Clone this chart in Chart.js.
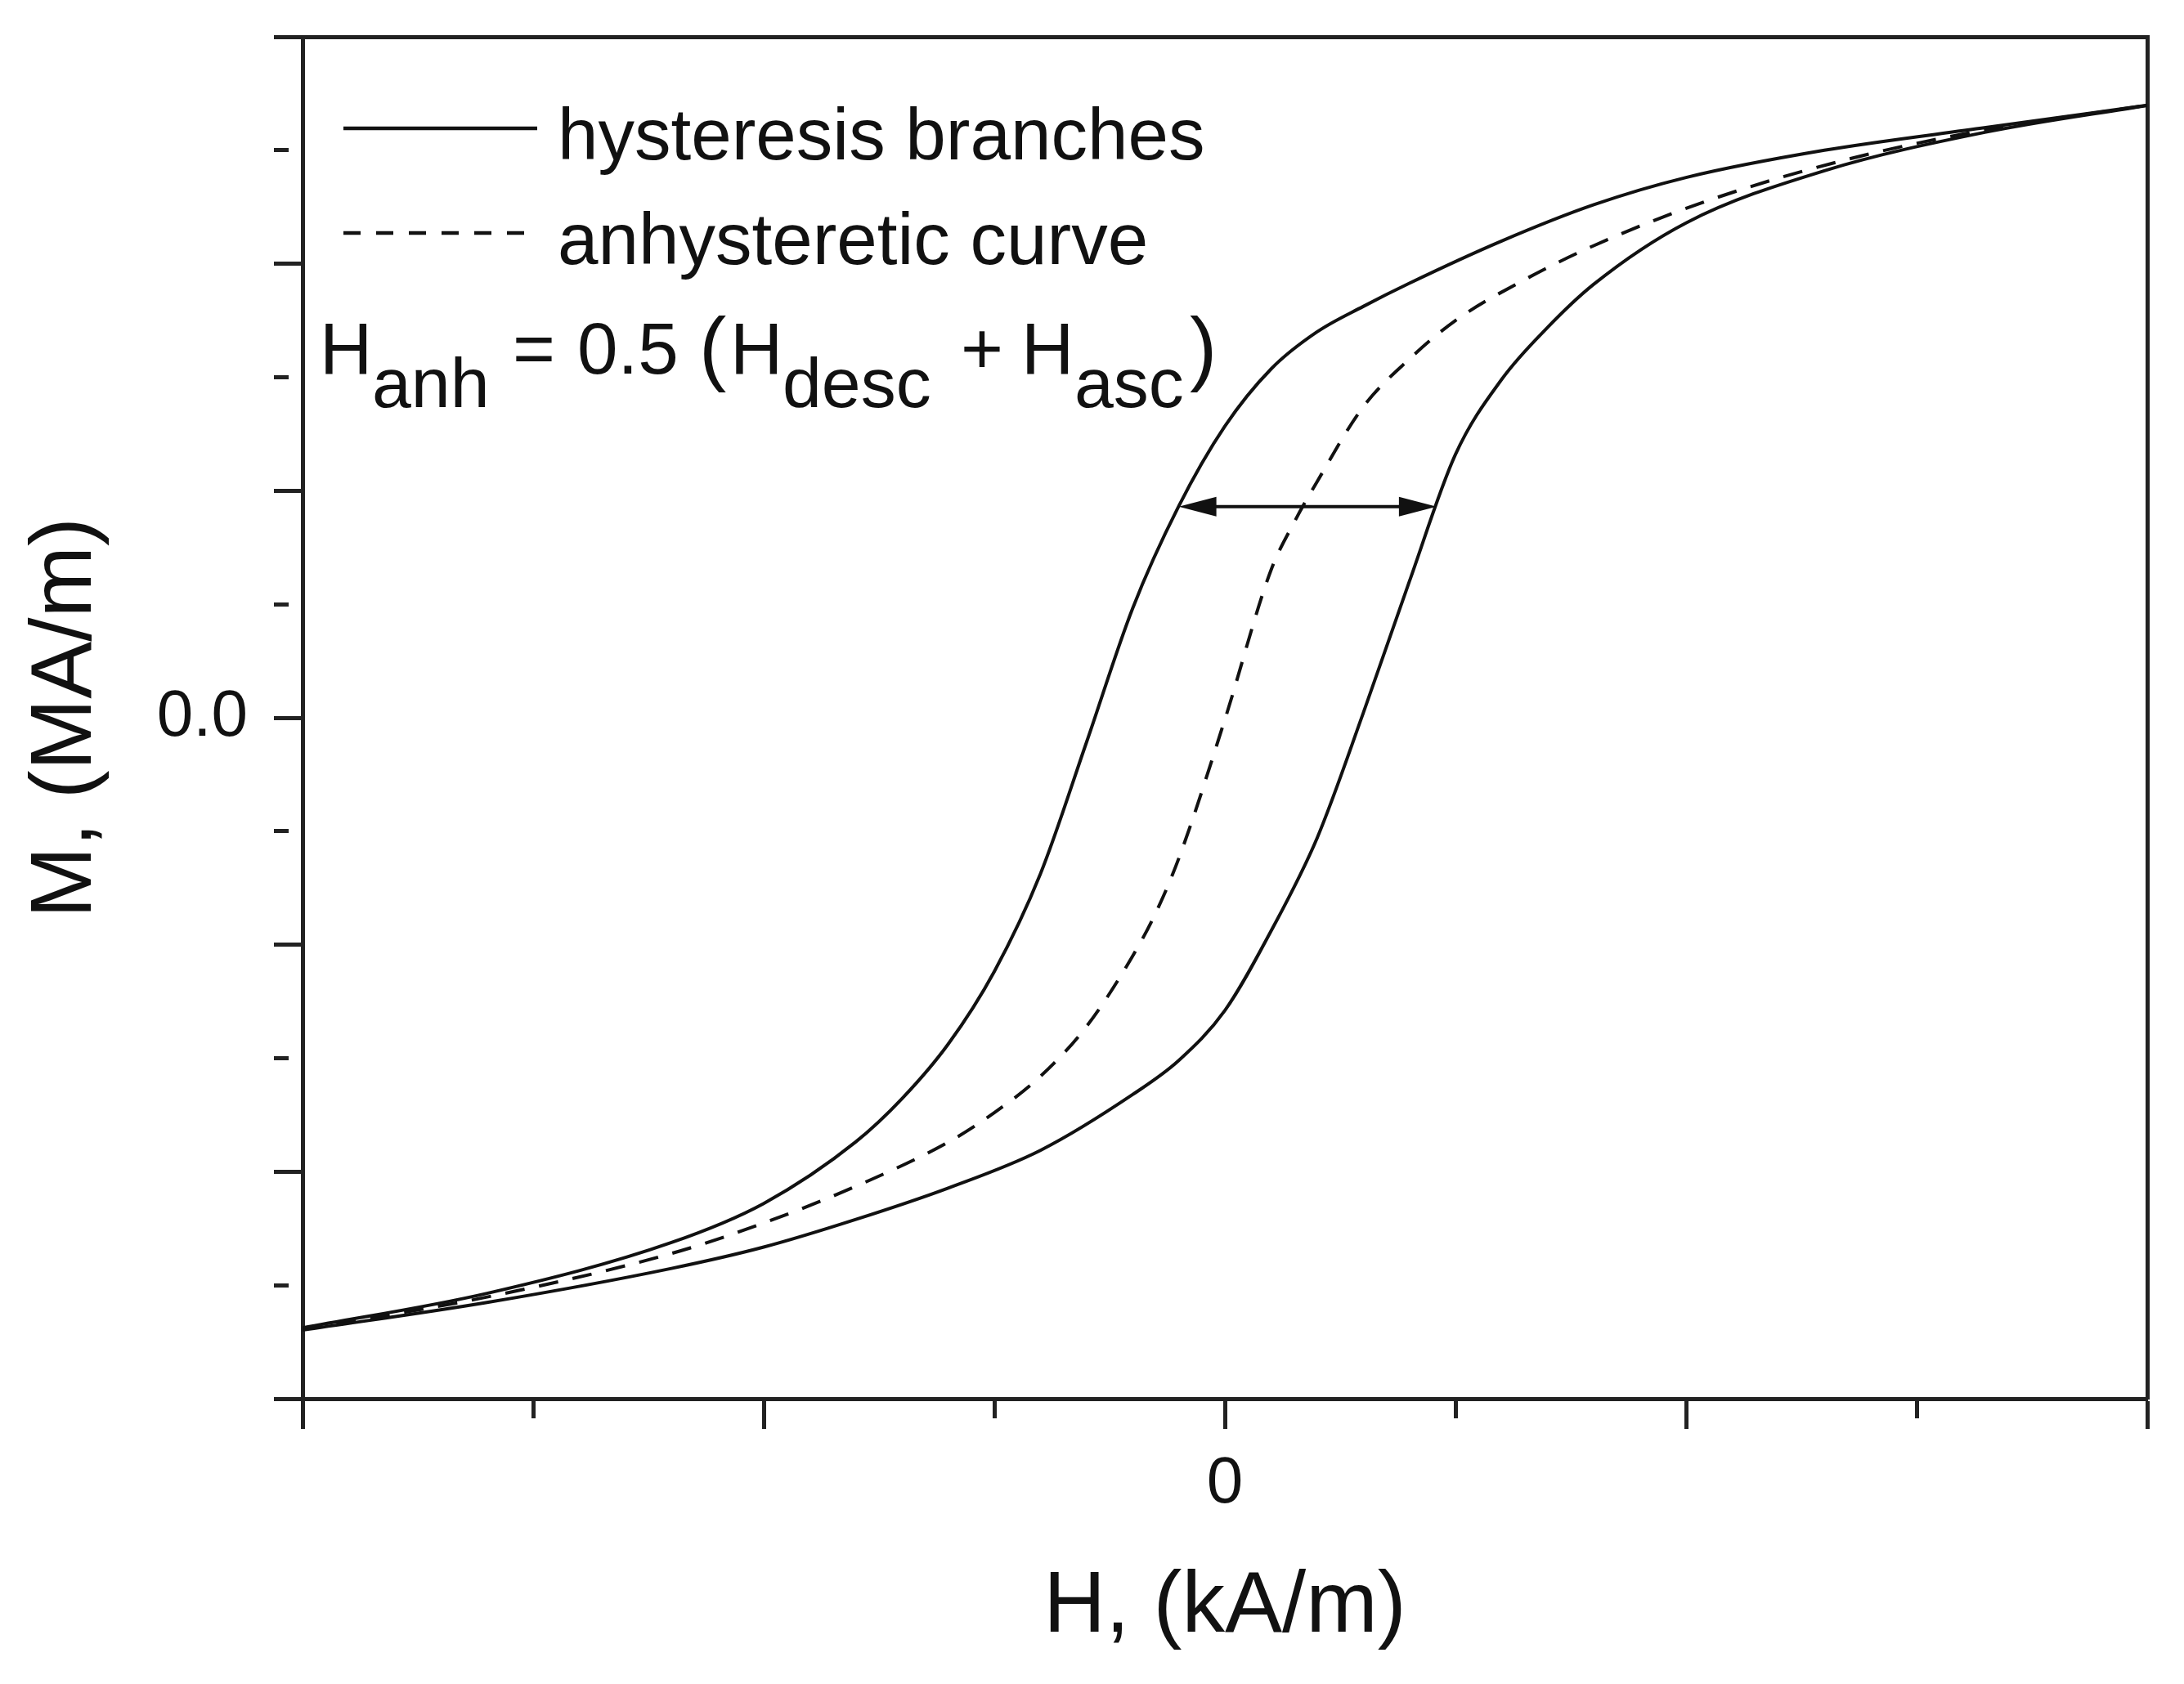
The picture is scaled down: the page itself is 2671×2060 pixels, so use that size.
<!DOCTYPE html>
<html lang="en">
<head>
  <meta charset="UTF-8" />
  <title>Hysteresis branches and anhysteretic curve</title>
  <script src="https://cdn.jsdelivr.net/npm/chart.js"></script>
  <style>
    body { margin: 0; background: #fff; }
    #wrap { width: 2671px; height: 2060px; }
  </style>
</head>
<body>
  <div id="wrap"><canvas id="hystChart" width="2671" height="2060"></canvas></div>

  <script>
    // descending branch (upper/left curve), sorted by H
    const descH = [-20, -16, -12, -10, -8, -7, -6, -5, -4, -3, -2, -1, 0, 1, 2, 3, 4, 6, 8, 10, 13, 16.5, 20];
    const descM = [-1.344, -1.268, -1.156, -1.07, -0.934, -0.839, -0.719, -0.559, -0.344, -0.054, 0.241, 0.466, 0.642, 0.768, 0.85, 0.906, 0.957, 1.05, 1.13, 1.19, 1.25, 1.3, 1.349];

    // ascending branch (lower/right curve)
    const ascH = [-20, -16, -12, -10, -8, -6, -4, -2, -1, 0, 1, 2, 3, 4, 5, 6, 7, 8, 10, 13, 16.5, 20];
    const ascM = [-1.349, -1.288, -1.213, -1.166, -1.105, -1.036, -0.953, -0.83, -0.755, -0.645, -0.47, -0.265, 0.01, 0.3, 0.58, 0.745, 0.86, 0.955, 1.09, 1.205, 1.29, 1.349];

    // anhysteretic curve (dashed)
    const anhH = [-20, -16, -12, -10, -8, -6, -5, -4, -3, -2, -1.5, -1, 0, 1, 1.5, 2, 3, 4, 5, 6.5, 8, 10.5, 13.5, 16.5, 20];
    const anhM = [-1.347, -1.276, -1.18, -1.113, -1.032, -0.935, -0.87, -0.79, -0.68, -0.525, -0.43, -0.31, -0.004, 0.325, 0.43, 0.52, 0.685, 0.79, 0.875, 0.965, 1.04, 1.14, 1.23, 1.295, 1.349];

    // double arrow between the branches
    const arrowM = 0.465;
    const arrowH = [-1.0, 4.59];

    // axes: only the zero ticks carry a label
    const xLabelValues = [0];
    const xLabelTexts = ['0'];
    const yLabelValues = [0];
    const yLabelTexts = ['0.0'];

    const legendLabels = ['hysteresis branches', 'anhysteretic curve'];

    const ink = '#111';
    const axisInk = '#222';
    const family = "'Liberation Sans', Arial, sans-serif";
    Chart.defaults.font.family = family;
    Chart.defaults.color = ink;

    const toPoints = (xs, ys) => xs.map((v, i) => ({ x: v, y: ys[i] }));
    const labelFor = (values, texts) => v => {
      const i = values.findIndex(t => Math.abs(t - v) < 1e-9);
      return i < 0 ? '' : texts[i];
    };
    const isMajorX = v => Math.abs(v / 10 - Math.round(v / 10)) < 1e-9;
    const isMajorY = v => Math.abs(v * 2 - Math.round(v * 2)) < 1e-9;

    // keep the empty tick labels from pushing the plot area inwards
    const fixSize = (w, h) => s => {
      if (w !== null) s.width = w;
      if (h !== null) s.height = h;
      s.paddingTop = 0; s.paddingBottom = 0;
      s.paddingLeft = 0; s.paddingRight = 0;
    };

    // legend, formula and arrow drawn on top of the plot
    const overlay = {
      id: 'overlay',
      afterDraw(chart) {
        const { ctx, scales: { x, y } } = chart;
        ctx.save();
        ctx.strokeStyle = ink;
        ctx.fillStyle = ink;
        ctx.textBaseline = 'alphabetic';
        ctx.textAlign = 'left';

        const legendRows = [157, 285];
        legendLabels.forEach((label, i) => {
          ctx.lineWidth = 4.5;
          ctx.setLineDash(i === 0 ? [] : [21, 19]);
          ctx.beginPath();
          ctx.moveTo(420, legendRows[i]);
          ctx.lineTo(657, legendRows[i]);
          ctx.stroke();
          ctx.setLineDash([]);
          ctx.font = '89px ' + family;
          ctx.fillText(label, 682, legendRows[i] + 38);
        });

        // H_anh = 0.5 (H_desc + H_asc)
        const pieces = [
          ['H', 391, 89, 457], ['anh', 455, 86, 498], ['=', 627, 89, 457],
          ['0.5', 706, 89, 457], ['(', 855, 100, 459], ['H', 893, 89, 457],
          ['desc', 957, 86, 498], ['+', 1175, 89, 457], ['H', 1249, 89, 457],
          ['asc', 1314, 86, 498], [')', 1455, 100, 459]
        ];
        pieces.forEach(([t, px, size, base]) => {
          ctx.font = size + 'px ' + family;
          ctx.fillText(t, px, base);
        });

        // double-headed arrow
        const ay = y.getPixelForValue(arrowM);
        const a0 = x.getPixelForValue(arrowH[0]);
        const a1 = x.getPixelForValue(arrowH[1]);
        const head = 46, half = 12;
        ctx.lineWidth = 4;
        ctx.beginPath();
        ctx.moveTo(a0 + head - 4, ay);
        ctx.lineTo(a1 - head + 4, ay);
        ctx.stroke();
        ctx.beginPath();
        ctx.moveTo(a0, ay); ctx.lineTo(a0 + head, ay - half); ctx.lineTo(a0 + head, ay + half); ctx.closePath();
        ctx.moveTo(a1, ay); ctx.lineTo(a1 - head, ay - half); ctx.lineTo(a1 - head, ay + half); ctx.closePath();
        ctx.fill();
        ctx.restore();
      }
    };

    const curve = (label, xs, ys, dash) => ({
      label,
      data: toPoints(xs, ys),
      showLine: true,
      borderColor: ink,
      borderWidth: 4,
      borderDash: dash,
      pointRadius: 0,
      fill: false,
      cubicInterpolationMode: 'monotone'
    });

    new Chart(document.getElementById('hystChart'), {
      type: 'scatter',
      data: {
        datasets: [
          curve('hysteresis branches', descH, descM, []),
          curve('hysteresis branches', ascH, ascM, []),
          curve('anhysteretic curve', anhH, anhM, [24, 18])
        ]
      },
      options: {
        responsive: false,
        devicePixelRatio: 1,
        animation: false,
        layout: { padding: { left: 0, top: 45, right: 45, bottom: 0 } },
        plugins: { legend: { display: false }, tooltip: { enabled: false } },
        scales: {
          x: {
            type: 'linear',
            position: 'bottom',
            min: -20,
            max: 20,
            afterFit: fixSize(null, 349),
            ticks: {
              stepSize: 5,
              autoSkip: false,
              maxRotation: 0,
              padding: 20,
              color: ink,
              font: { size: 80 },
              callback: labelFor(xLabelValues, xLabelTexts)
            },
            grid: {
              drawOnChartArea: false,
              drawTicks: true,
              tickLength: 37,
              tickWidth: 5,
              tickColor: axisInk,
              tickBorderDash: c => (c.tick && !isMajorX(c.tick.value)) ? [21, 200] : []
            },
            border: { display: true, width: 5, color: axisInk },
            title: {
              display: true,
              text: 'H, (kA/m)',
              color: ink,
              font: { size: 105 },
              padding: { top: 0, bottom: 30 }
            }
          },
          y: {
            type: 'linear',
            position: 'left',
            min: -1.5,
            max: 1.5,
            afterFit: fixSize(370, null),
            ticks: {
              stepSize: 0.25,
              autoSkip: false,
              padding: 32,
              color: ink,
              font: { size: 80 },
              callback: labelFor(yLabelValues, yLabelTexts)
            },
            grid: {
              drawOnChartArea: false,
              drawTicks: true,
              tickLength: 35,
              tickWidth: 5,
              tickColor: axisInk,
              tickBorderDash: c => (c.tick && !isMajorY(c.tick.value)) ? [18, 200] : []
            },
            border: { display: true, width: 5, color: axisInk },
            title: {
              display: true,
              text: 'M, (MA/m)',
              color: ink,
              font: { size: 105 },
              padding: { top: 19, bottom: 0 }
            }
          },
          xTop: {
            type: 'linear',
            axis: 'x',
            position: 'top',
            min: -20,
            max: 20,
            afterFit: fixSize(null, 0),
            ticks: { display: false },
            grid: { drawOnChartArea: false, drawTicks: false },
            border: { display: true, width: 5, color: axisInk }
          },
          yRight: {
            type: 'linear',
            axis: 'y',
            position: 'right',
            min: -1.5,
            max: 1.5,
            afterFit: fixSize(0, null),
            ticks: { display: false },
            grid: { drawOnChartArea: false, drawTicks: false },
            border: { display: true, width: 5, color: axisInk }
          }
        }
      },
      plugins: [overlay]
    });
  </script>
</body>
</html>
